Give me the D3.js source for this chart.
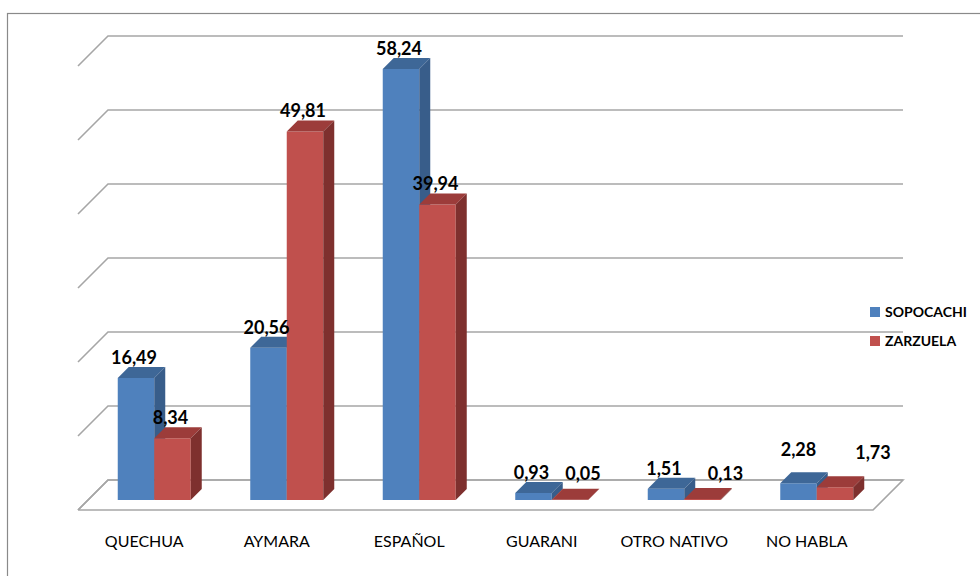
<!DOCTYPE html>
<html><head><meta charset="utf-8">
<script src="https://cdn.jsdelivr.net/npm/d3@7"></script>
<style>body{margin:0;background:#fff}svg{display:block}</style>
</head><body>
<svg id="c" width="980" height="576"></svg>
<script>
const categories = ["QUECHUA","AYMARA","ESPAÑOL","GUARANI","OTRO NATIVO","NO HABLA"];
const seriesNames = ["SOPOCACHI","ZARZUELA"];
const sopocachi = [16.49,20.56,58.24,0.93,1.51,2.28];
const zarzuela = [8.34,49.81,39.94,0.05,0.13,1.73];
const yTicks = [0,10,20,30,40,50,60];

const seriesValues = [sopocachi, zarzuela];
const colors = [
  {front:"#4F81BD", top:"#3E6797", side:"#385D8A"},
  {front:"#C0504D", top:"#9C3C3A", side:"#7E302E"}
];
// manual label adjustments (as in the original layout)
const labelNudge = {"3-1":[15,-6],"4-1":[25,-5],"5-0":[2,-13],"5-1":[40,-14]};

const svg = d3.select("#c");
const D = 30;             // floor depth (oblique offset)
const floorY = 510, x0 = 78, x1 = 873;
const y = d3.scaleLinear().domain([0,60]).range([0,444]);
const x = d3.scaleBand().domain(categories).range([x0,x1]).paddingInner(0).paddingOuter(0);
const xs = d3.scaleBand().domain(seriesNames).range([0,x.bandwidth()]).paddingInner(0).paddingOuter(0.815);
const proj = (px, v, z) => [px + z, floorY - z - y(v)];

// border
svg.append("rect").attr("x",7.5).attr("y",13.5).attr("width",1000).attr("height",600)
  .attr("fill","none").attr("stroke","#8a8a8a").attr("stroke-width",1.2);

const grid = svg.append("g").attr("fill","none").attr("stroke","#a6a6a6").attr("stroke-width",1.6);
// floor
grid.append("path").attr("d", d3.line()([proj(x0,0,0),proj(x1,0,0),proj(x1,0,D),proj(x0,0,D),proj(x0,0,0)]));
yTicks.forEach(t=>{
  grid.append("path").attr("d", d3.line()([proj(x0,t,0),proj(x0,t,D),proj(x1,t,D)]));
});

// bars
const zf = 10, zb = 21;
const bars = svg.append("g");
categories.forEach((c,ci)=>{
  seriesNames.forEach((s,si)=>{
    const v = seriesValues[si][ci];
    const col = colors[si];
    const l = x(c)+xs(s), r = l + xs.bandwidth();
    const g = bars.append("g");
    const poly = pts => g.append("path").attr("d", d3.line()(pts)+"Z");
    poly([proj(l,0,zf),proj(r,0,zf),proj(r,v,zf),proj(l,v,zf)]).attr("fill",col.front);
    poly([proj(l,v,zf),proj(r,v,zf),proj(r,v,zb),proj(l,v,zb)]).attr("fill",col.top);
    poly([proj(r,0,zf),proj(r,0,zb),proj(r,v,zb),proj(r,v,zf)]).attr("fill",col.side);
  });
});

// value labels
const fmt = v => d3.format(".2f")(v).replace(".",",");
categories.forEach((c,ci)=>{
  seriesNames.forEach((s,si)=>{
    const v = seriesValues[si][ci];
    const cx = x(c)+xs(s)+xs.bandwidth()/2 + zf - 2;
    const topBack = proj(0,v,zb)[1];
    const n = labelNudge[ci+"-"+si] || [0,0];
    svg.append("text").attr("x",cx+n[0]).attr("y",topBack-3+n[1])
      .attr("text-anchor","middle").attr("font-family","Lato, sans-serif")
      .attr("font-weight","bold").attr("font-size",18).attr("fill","#000")
      .text(fmt(v));
  });
});

// category labels
svg.append("g").selectAll("text").data(categories).join("text")
  .attr("x",d=>x(d)+x.bandwidth()/2).attr("y",547)
  .attr("text-anchor","middle").attr("font-family","Lato, sans-serif")
  .attr("font-size",16).attr("fill","#000").text(d=>d);

// legend
const lg = svg.append("g").attr("transform","translate(870,307)");
seriesNames.forEach((s,i)=>{
  lg.append("rect").attr("x",0).attr("y",i*29).attr("width",10).attr("height",10).attr("fill",colors[i].front);
  lg.append("text").attr("x",15).attr("y",i*29+10).attr("font-family","Lato, sans-serif")
    .attr("font-weight","bold").attr("font-size",14).attr("fill","#000").text(s);
});
</script>
</body></html>
